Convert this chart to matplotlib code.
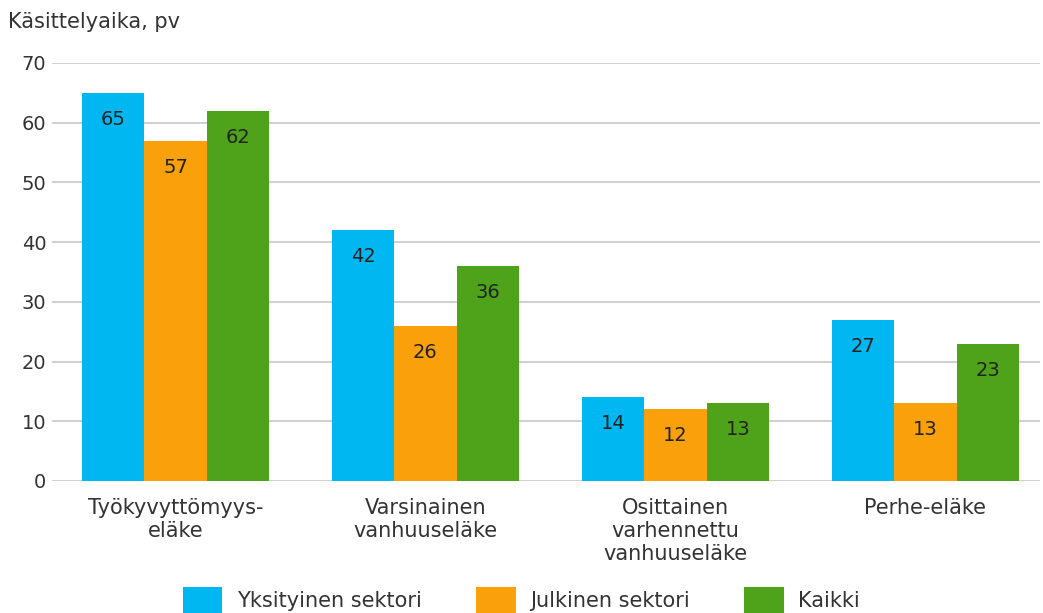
import matplotlib
matplotlib.use("Agg")
import matplotlib.pyplot as plt
import numpy as np

# Data
categories = ["Työkyvyttömyys-\neläke", "Varsinainen\nvanhuuseläke",
              "Osittainen\nvarhennettu\nvanhuuseläke", "Perhe-eläke"]
series_names = ["Yksityinen sektori", "Julkinen sektori", "Kaikki"]
yksityinen = [65, 42, 14, 27]
julkinen = [57, 26, 12, 13]
kaikki = [62, 36, 13, 23]
yticks = [0, 10, 20, 30, 40, 50, 60, 70]

colors = ["#00B7F1", "#F9A00A", "#4FA31A"]
text_color = "#333333"
fs_num = 14
fs_txt = 15

plt.rcParams["font.family"] = ["DejaVu Sans"]

fig = plt.figure(figsize=(10.43, 6.13), dpi=100)
ax = fig.add_axes([52 / 1043, 132 / 613, (1040 - 52) / 1043, 418 / 613])

x = np.arange(len(categories))
width = 0.25
handles = []
for i, (vals, name) in enumerate(zip([yksityinen, julkinen, kaikki], series_names)):
    bars = ax.bar(x + (i - 1) * width, vals, width, color=colors[i], label=name,
                  zorder=3)
    handles.append(bars)
    for b, v in zip(bars, vals):
        ax.annotate(str(v), (b.get_x() + b.get_width() / 2, v),
                    xytext=(0, -19), textcoords="offset points",
                    ha="center", va="center", fontsize=fs_num, color="#222222",
                    zorder=4)

ax.set_xlim(-0.494, 3.458)
ax.set_ylim(0, 70)
ax.set_yticks(yticks)
ax.set_xticks(x)
ax.set_xticklabels(categories, fontsize=fs_txt, linespacing=1.2)
ax.grid(axis="y", color="#CCCCCC", linewidth=1.3, zorder=0)
for s in ax.spines.values():
    s.set_visible(False)
ax.tick_params(axis="both", length=0, colors=text_color)
ax.tick_params(axis="y", pad=4, labelsize=fs_num)
ax.tick_params(axis="x", pad=12)

fig.text(8 / 1043, 1 - 22 / 613, "Käsittelyaika, pv", fontsize=fs_txt,
         color=text_color, ha="left", va="center")

fig.legend(handles=handles, labels=series_names, loc="upper center",
           bbox_to_anchor=(0.5, 36 / 613), ncol=3, frameon=False,
           fontsize=fs_txt, handlelength=1.9, handleheight=1.5,
           handletextpad=0.7, columnspacing=2.6, borderpad=0,
           labelcolor=text_color)

fig.savefig("out.png", dpi=100)
